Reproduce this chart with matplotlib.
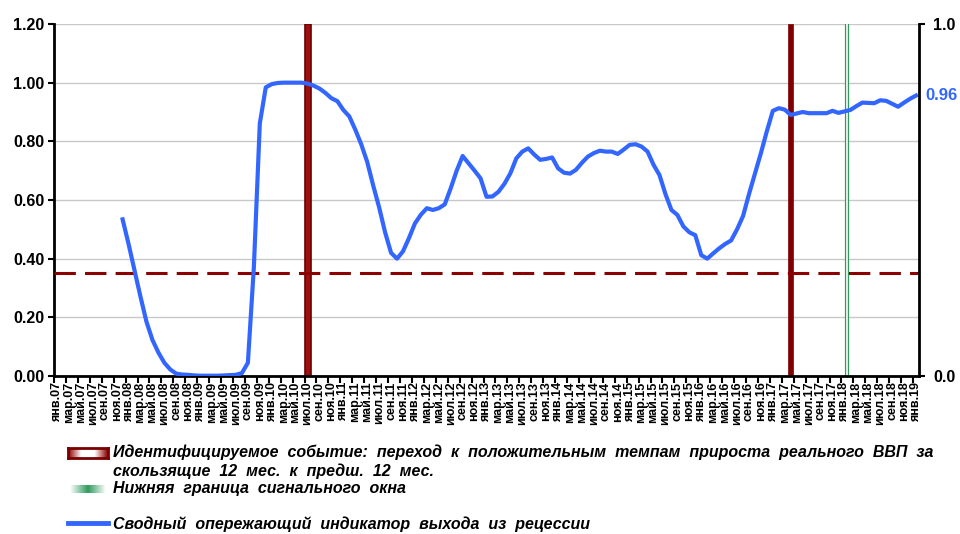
import numpy as np
import matplotlib.pyplot as plt
from matplotlib.colors import LinearSegmentedColormap

plt.rcParams['font.family'] = ['Liberation Sans', 'DejaVu Sans']
plt.rcParams['font.weight'] = 'bold'

# Tick labels: every second month from янв.07 to янв.19
month_names = ["янв", "мар", "май", "июл", "сен", "ноя"]
years = list(range(7, 19))
tick_labels = [f"{m}.{y:02d}" for y in years for m in month_names] + ["янв.19"]

# Composite leading indicator, monthly, starting Dec 2007 (month index 11)
start_month = 11
indicator = [
    0.534, 0.45, 0.36, 0.27, 0.185, 0.123, 0.08, 0.045, 0.022, 0.008,
    0.005, 0.004, 0.002, 0.001, 0.001, 0.001, 0.001, 0.002, 0.003, 0.004,
    0.01, 0.045, 0.37, 0.861, 0.984, 0.995, 0.999, 1.0, 1.0, 1.0,
    1.0, 0.997, 0.99, 0.98, 0.965, 0.947, 0.937, 0.907, 0.885, 0.84,
    0.79, 0.73, 0.65, 0.575, 0.49, 0.42, 0.40, 0.425, 0.47, 0.52,
    0.55, 0.572, 0.566, 0.572, 0.585, 0.64, 0.70, 0.75, 0.725, 0.70,
    0.674, 0.611, 0.612, 0.628, 0.655, 0.691, 0.742, 0.765, 0.776, 0.755,
    0.737, 0.74, 0.745, 0.708, 0.693, 0.69, 0.703, 0.727, 0.748, 0.76,
    0.768, 0.765, 0.765, 0.757, 0.772, 0.788, 0.79, 0.782, 0.765, 0.72,
    0.685, 0.62, 0.566, 0.549, 0.51, 0.49, 0.48, 0.412, 0.40, 0.418,
    0.435, 0.45, 0.462, 0.50, 0.545, 0.62, 0.69, 0.76, 0.835, 0.904,
    0.913, 0.908, 0.89, 0.895, 0.90, 0.896, 0.896, 0.896, 0.896, 0.904,
    0.897, 0.902, 0.907, 0.92, 0.932, 0.931, 0.930, 0.94, 0.938, 0.928,
    0.918, 0.932, 0.945, 0.956,
]
threshold = 0.35
event_months = [42, 123]      # июл.10, апр.17
window_month = 132.4          # янв.18
last_label = "0.96"

dark_red = '#8B0000'
blue = '#3366FF'
green = '#2E9B5E'

fig = plt.figure(figsize=(9.6, 5.34), dpi=100)
ax = fig.add_axes([54 / 960, 1 - 376 / 534, (919 - 54) / 960, (376 - 24) / 534])

x = np.arange(start_month, start_month + len(indicator))

ax.set_xlim(-0.5, 144.5)
ax.set_ylim(0, 1.2)
ax.set_yticks(np.arange(0, 1.21, 0.2))
ax.set_yticklabels([f"{v:.2f}" for v in np.arange(0, 1.21, 0.2)])
ax.yaxis.grid(True, color='#C8C8C8', lw=1)
ax.set_axisbelow(True)

ax.bar(event_months[:1], 1.2, width=1.0, color='#9E1010', edgecolor='#6B0000', lw=1.2, zorder=2)
ax.bar(event_months[1:], 1.2, width=0.9, color='#800000', edgecolor='#800000', lw=0.5, zorder=2)
ax.axvline(window_month, color=green, lw=3, zorder=2)
ax.axvline(window_month, color='white', lw=1.2, zorder=2)
ax.axhline(threshold, color=dark_red, lw=2.2, dashes=(7, 3), zorder=3)
ax.plot(x, indicator, color=blue, lw=3, zorder=4, solid_joinstyle='round')

ax.annotate(last_label, xy=(x[-1], indicator[-1]), xytext=(7, 0), textcoords='offset points',
            color=blue, fontsize=12, fontweight='bold', va='center', ha='left')

for s in ['top', 'right']:
    ax.spines[s].set_visible(False)
for s in ['left', 'bottom']:
    ax.spines[s].set_linewidth(2)
    ax.spines[s].set_color('black')

ax.tick_params(axis='y', direction='out', length=4, width=1.5, labelsize=11.5, pad=3)
ax.set_xticks(range(0, 145, 2))
ax.set_xticklabels(tick_labels, rotation=90, fontsize=9)
ax.tick_params(axis='x', which='major', length=0, pad=4)
ax.set_xticks(np.arange(-0.5, 145, 2), minor=True)
ax.tick_params(axis='x', which='minor', direction='out', length=5, width=1.5)

ax2 = ax.twinx()
ax2.set_ylim(0, 1)
ax2.set_yticks([0, 1])
ax2.set_yticklabels(["0.0", "1.0"])
ax2.tick_params(axis='y', direction='out', length=4, width=1.5, labelsize=11.5, pad=6)
for s in ['top', 'left', 'bottom']:
    ax2.spines[s].set_visible(False)
ax2.spines['right'].set_linewidth(2)

# Legend drawn by hand below the axis labels
red_cmap = LinearSegmentedColormap.from_list('r', [dark_red, 'white', 'white', dark_red])
green_cmap = LinearSegmentedColormap.from_list('g', ['white', green, 'white'])
grad = np.linspace(0, 1, 100).reshape(1, -1)

lax1 = fig.add_axes([68 / 960, 1 - 458 / 534, 40 / 960, 10 / 534])
lax1.imshow(grad, aspect='auto', cmap=red_cmap)
lax1.set_xticks([])
lax1.set_yticks([])
for s in lax1.spines.values():
    s.set_color('#7A0000')
    s.set_linewidth(2)

lax2 = fig.add_axes([70 / 960, 1 - 493 / 534, 36 / 960, 8 / 534])
lax2.imshow(grad, aspect='auto', cmap=green_cmap)
lax2.axis('off')

fig.add_artist(plt.Line2D([68 / 960, 108 / 960], [1 - 523 / 534, 1 - 523 / 534], color=blue, lw=3.5))

legend_style = dict(fontsize=11.5, style='italic', fontweight='bold', va='center', ha='left')
fig.text(113 / 960, 1 - 452 / 534,
         "Идентифицируемое  событие:  переход  к  положительным  темпам  прироста  реального  ВВП  за",
         **legend_style)
fig.text(113 / 960, 1 - 471 / 534, "скользящие  12  мес.  к  предш.  12  мес.", **legend_style)
fig.text(113 / 960, 1 - 489 / 534, "Нижняя  граница  сигнального  окна", **legend_style)
fig.text(113 / 960, 1 - 524 / 534, "Сводный  опережающий  индикатор  выхода  из  рецессии", **legend_style)

fig.savefig("out.png", dpi=100)
